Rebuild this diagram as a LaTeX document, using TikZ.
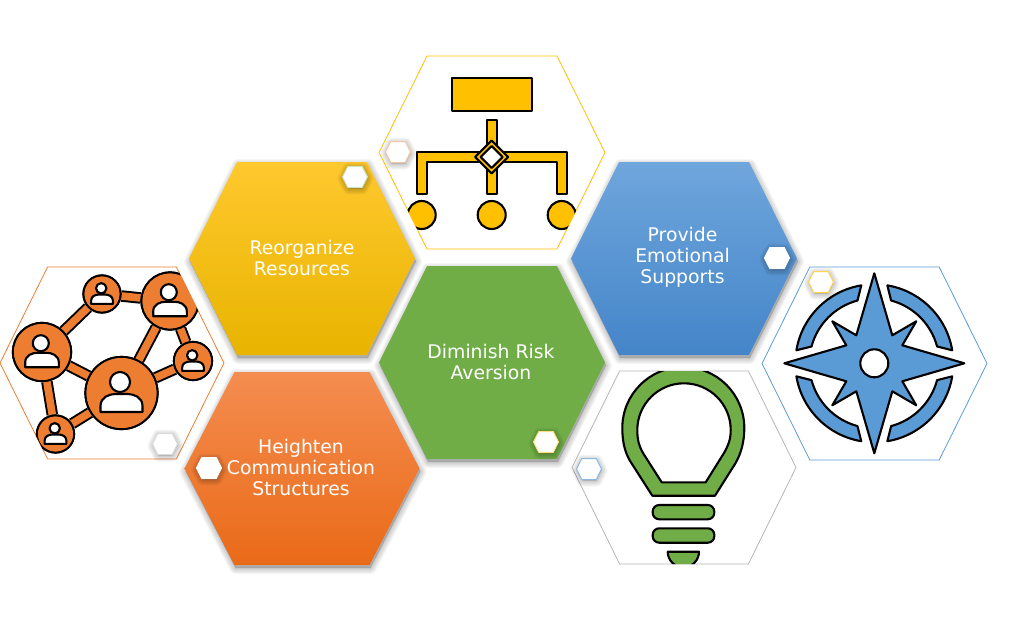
\documentclass[tikz,border=0pt]{standalone}
\usepackage{fontspec}
\setmainfont{DejaVu Sans}
\usepackage{tikz}
\usepackage{xcolor}
\usetikzlibrary{
    calc,
    positioning
}
\definecolor{hexgreen}{HTML}{70AD47}
\definecolor{hexgold}{HTML}{FFC000}
\definecolor{hexblue}{HTML}{5B9BD5}
\definecolor{hexorange}{HTML}{ED7D31}
\definecolor{hexgrey}{HTML}{B5B5B5}
% centre x, centre y, half width, half height
\newcommand{\hexpath}[4]{({#1-#3},#2) -- ({#1-0.575*#3},{#2-#4}) -- ({#1+0.575*#3},{#2-#4}) -- ({#1+#3},#2) -- ({#1+0.575*#3},{#2+#4}) -- ({#1-0.575*#3},{#2+#4}) -- cycle}
% soft shadow below a hexagon
\newcommand{\hexshadow}[5]{
    \foreach \w in {12,10,8,6,4,2}
        \draw[black, opacity=0.035, fill=black, line width=\w, line join=round, shift={({#5/3},#5)}] \hexpath{#1}{#2}{#3}{#4};
}
% small white badge
\newcommand{\badge}[3]{
    \hexshadow{#1}{#2}{12}{10}{1.5}
    \draw[fill=white, draw=#3, line width=1] \hexpath{#1}{#2}{12.5}{10.5};
}
\tikzset{
    caption/.style={text=white, font=\fontsize{18.8}{21}\selectfont, align=center},
    icon/.style={draw=black, line width=2.1, line join=round},
    peer/.style={circle, draw=black, line width=2.2, fill=hexorange, inner sep=0pt, minimum size=#1},
    person/.pic={
        \draw[icon, fill=white] (-1.5,-11) circle (10);
        \draw[icon, fill=white] (-21,19) -- (-21,13) .. controls (-21,4) and (-12,1) .. (-6,1) -- (6,1) .. controls (12,1) and (21,4) .. (21,13) -- (21,19) -- cycle;
    }
}
\begin{document}
\begin{tikzpicture}[x=1pt, y=-1pt]
    \useasboundingbox (0,0) rectangle (1022,623);
    % filled hexagons
    \hexshadow{302}{258.5}{113}{96.5}{3}
    \shade[top color={rgb,255:red,255;green,200;blue,46}, bottom color={rgb,255:red,232;green,180;blue,0}] \hexpath{302}{258.5}{113}{96.5};
    \hexshadow{684}{258.5}{113}{96.5}{3}
    \shade[top color={rgb,255:red,111;green,166;blue,220}, bottom color={rgb,255:red,68;green,133;blue,201}] \hexpath{684}{258.5}{113}{96.5};
    \hexshadow{302}{468.5}{117.5}{96.5}{3}
    \shade[top color={rgb,255:red,244;green,141;blue,80}, bottom color={rgb,255:red,234;green,106;blue,24}] \hexpath{302}{468.5}{117.5}{96.5};
    \hexshadow{492}{362.5}{113}{96.5}{3}
    \fill[hexgreen] \hexpath{492}{362.5}{113}{96.5};
    \node[caption] (reorg) at (302,257.5) {Reorganize\\Resources};
    \node[caption] (support) at (682.5,257.5) {Provide\\Emotional\\Supports};
    \node[caption] (comm) at (301,467) {Heighten\\Communication\\Structures};
    \node[caption] (risk) at (491,361.5) {Diminish Risk\\Aversion};
    % org chart
    \draw[hexgold, line width=0.8] \hexpath{492}{152.5}{113}{96.5};
    \begin{scope}
        \clip \hexpath{492}{152.5}{113}{96.5};
        \draw[icon, fill=hexgold] (452,78) rectangle (532,111);
        \draw[icon, fill=hexgold] (487.3,120) -- (496.7,120) -- (496.7,152.3) -- (567.3,152.3) -- (567.3,194.3) -- (557.3,194.3) -- (557.3,161.7) -- (496.7,161.7) -- (496.7,194.3) -- (487.3,194.3) -- (487.3,161.7) -- (426.7,161.7) -- (426.7,194.3) -- (416.7,194.3) -- (416.7,152.3) -- (487.3,152.3) -- cycle;
        \draw[icon, fill=hexgold] (491.7,140.5) -- (508.2,157) -- (491.7,173.5) -- (475.2,157) -- cycle;
        \draw[icon, fill=white] (491.7,146) -- (502.7,157) -- (491.7,168) -- (480.7,157) -- cycle;
        \foreach \x in {421.7,491.7,561.7}
            \draw[icon, fill=hexgold] (\x,215) circle (14);
    \end{scope}
    % people network
    \draw[hexorange, line width=0.8] \hexpath{112}{363}{112}{96};
    \begin{scope}
        \clip \hexpath{112}{363}{112}{96};
        \node[peer=72] (pa) at (121.5,393) {};
        \node[peer=58] (pb) at (42,352) {};
        \node[peer=37] (pc) at (102,294) {};
        \node[peer=57] (pd) at (170,301) {};
        \node[peer=38] (pe) at (193,361) {};
        \node[peer=37] (pf) at (55.5,434) {};
        \foreach \u/\v in {pa/pb, pb/pc, pc/pd, pd/pa, pd/pe, pe/pa, pb/pf, pf/pa} {
            \draw[black, line width=11.5] (\u) -- (\v);
            \draw[hexorange, line width=7.6] (\u) -- (\v);
        }
        \node[peer=72] at (pa) {};
        \node[peer=58] at (pb) {};
        \node[peer=37] at (pc) {};
        \node[peer=57] at (pd) {};
        \node[peer=38] at (pe) {};
        \node[peer=37] at (pf) {};
        % hide the link ends under the discs
        \foreach \u/\d in {pa/70, pb/56, pc/35, pd/55, pe/36, pf/35}
            \fill[hexorange] (\u) circle ({\d/2});
        \pic[scale=1] at (pa) {person};
        \pic[scale=0.8] at (pb) {person};
        \pic[scale=0.52] at (pc) {person};
        \pic[scale=0.8] at (pd) {person};
        \pic[scale=0.52] at (pe) {person};
        \pic[scale=0.52] at (pf) {person};
    \end{scope}
    % compass
    \draw[hexblue, line width=0.8] \hexpath{874.5}{363.5}{112.5}{96.5};
    \begin{scope}[shift={(874.3,363.3)}]
        \draw[icon, fill=hexblue] (0,-90) -- (18,-28) -- (42,-42) -- (28,-18) -- (90,0) -- (28,18) -- (42,42) -- (18,28) -- (0,90) -- (-18,28) -- (-42,42) -- (-28,18) -- (-90,0) -- (-28,-18) -- (-42,-42) -- (-18,-28) -- cycle;
        \draw[icon, fill=white] (0,0) circle (14);
        \foreach \ang in {0,90,180,270}
            \draw[icon, fill=hexblue] (\ang+9.5:79) arc[start angle=\ang+9.5, end angle=\ang+80.5, radius=79] -- (\ang+75:65) arc[start angle=\ang+75, end angle=\ang+15, radius=65] -- cycle;
    \end{scope}
    % light bulb
    \draw[hexgrey, line width=0.8] \hexpath{684}{467.5}{112}{96.5};
    \begin{scope}
        \clip \hexpath{684}{467.5}{112}{96.5};
        \draw[icon, fill=hexgreen, even odd rule]
            (652.3,495.7) -- (715,495.7) -- (735,464) .. controls (741,454) and (744.3,442) .. (744.3,428) arc[start angle=0, end angle=-180, radius=61] .. controls (622.3,442) and (625,454) .. (632,464) -- cycle
            (661.7,482.3) -- (705.7,482.3) -- (724,453) .. controls (728,446) and (730.7,440) .. (730.7,430) arc[start angle=0, end angle=-180, radius=46.7] .. controls (637.3,440) and (639,446) .. (643,453) -- cycle;
        \draw[icon, fill=hexgreen, rounded corners=6.5] (652.7,505) rectangle (714.3,519.3);
        \draw[icon, fill=hexgreen, rounded corners=6.5] (652.7,528.3) rectangle (714.3,542.7);
        \draw[icon, fill=hexgreen] (667.7,551.7) -- (699,551.7) arc[start angle=0, end angle=180, radius=15.65] -- cycle;
    \end{scope}
    % badges
    \badge{355}{177}{hexgreen!35!white}
    \badge{398}{152}{hexorange!45!white}
    \badge{777}{258}{white}
    \badge{821}{282}{hexgold!70!white}
    \badge{546}{442}{hexgold!50!white}
    \badge{589}{469}{hexblue!70!white}
    \badge{165}{444}{hexgrey!50!white}
    \badge{209}{468}{white}
\end{tikzpicture}
\end{document}
